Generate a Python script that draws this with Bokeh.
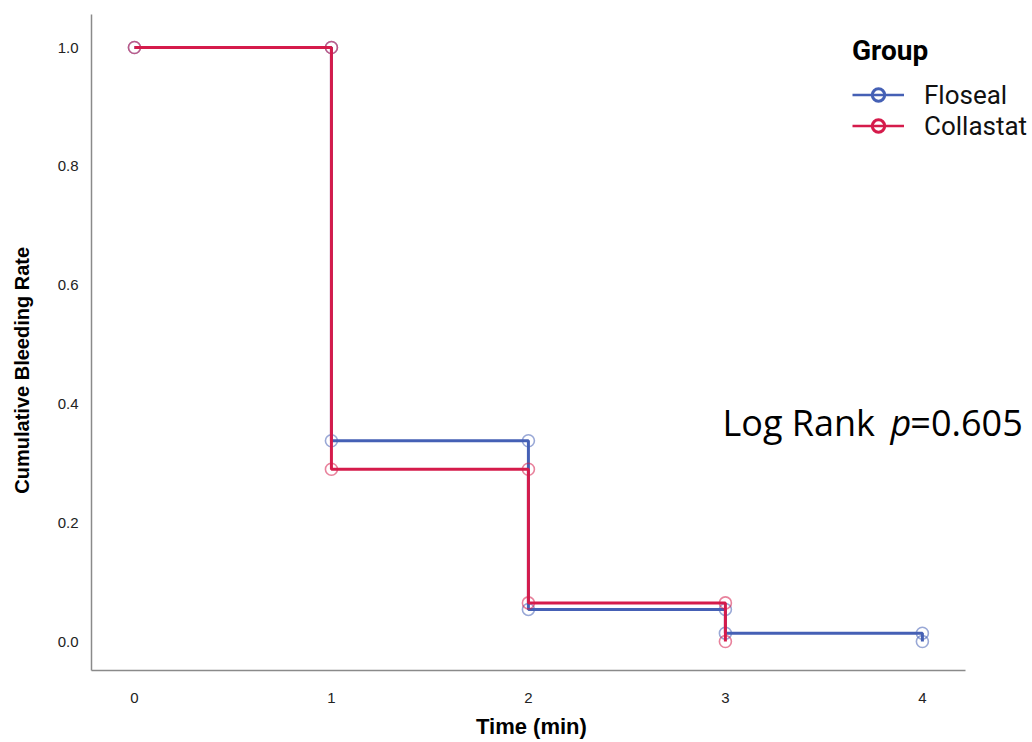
from bokeh.plotting import figure
from bokeh.models import Range1d, Legend, LegendItem, Label, FixedTicker
from bokeh.embed import file_html
from bokeh.resources import INLINE

# ---- data ----
groups = ["Floseal", "Collastat"]
colors = ["#4560b5", "#d51b4b"]
times_floseal = [0, 1, 2, 3, 4]
rate_floseal = [1.0, 0.338, 0.054, 0.014, 0.0]
times_collastat = [0, 1, 2, 3]
rate_collastat = [1.0, 0.290, 0.065, 0.0]
x_ticks = [0, 1, 2, 3, 4]
y_ticks = [0.0, 0.2, 0.4, 0.6, 0.8, 1.0]
p_value = "0.605"

p = figure(width=1032, height=742, output_backend="svg", toolbar_location=None,
           x_range=Range1d(-0.218, 4.559), y_range=Range1d(-0.0488, 1.0556),
           min_border_left=91, min_border_right=0, min_border_top=14, min_border_bottom=72,
           background_fill_color="white", border_fill_color="white")
p.outline_line_color = None
p.xgrid.visible = False
p.ygrid.visible = False

series = [(times_floseal, rate_floseal), (times_collastat, rate_collastat)]
legend_items = []
nan = float("nan")
for name, color, (t, r) in zip(groups, colors, series):
    p.step(t, r, mode="after", line_color=color, line_width=3)
    cx, cy = [t[0]], [r[0]]
    for i in range(1, len(t)):
        cx += [t[i], t[i]]
        cy += [r[i - 1], r[i]]
    p.scatter(cx, cy, marker="circle", size=12, fill_color=None,
              line_color=color, line_alpha=0.55, line_width=1.6)
    # legend-only swatches (nothing drawn in the plot)
    lg_line = p.line([nan], [nan], line_color=color, line_width=2.5)
    lg_circ = p.scatter([nan], [nan], marker="circle", fill_color=None,
                        line_color=color, line_width=3)
    legend_items.append(LegendItem(label=name, renderers=[lg_line, lg_circ]))

legend = Legend(items=legend_items, title="Group", location=(761, 529),
                title_text_font="Roboto", title_text_font_style="bold",
                title_text_font_size="28px", title_text_color="black",
                label_text_font="Roboto", label_text_font_size="26px",
                label_text_color="#111111",
                glyph_width=52, glyph_height=31, spacing=0, padding=4,
                label_standoff=20, title_standoff=12,
                border_line_color=None, background_fill_alpha=0)
p.add_layout(legend)

for ax in (p.xaxis, p.yaxis):
    ax.axis_line_color = "#8a8a8a"
    ax.axis_line_width = 1.5
    ax.major_tick_line_color = None
    ax.minor_tick_line_color = None
    ax.major_label_text_font = "Liberation Sans"
    ax.major_label_text_font_size = "15px"
    ax.major_label_text_color = "#222222"
    ax.axis_label_text_font = "Liberation Sans"
    ax.axis_label_text_font_style = "bold"
    ax.axis_label_text_color = "black"

p.xaxis.axis_label_text_font_size = "22px"
p.yaxis.axis_label_text_font_size = "20px"
p.xaxis.bounds = (-0.218, 4.218)
p.xaxis.ticker = FixedTicker(ticks=x_ticks)
p.yaxis.ticker = FixedTicker(ticks=y_ticks)
p.yaxis.major_label_overrides = {v: f"{v:.1f}" for v in y_ticks}
pad = "\u00a0" * 10  # shifts the centred titles as in the reference
p.xaxis.axis_label = "Time (min)" + pad
p.yaxis.axis_label = "Cumulative Bleeding Rate" + pad
p.xaxis.major_label_standoff = 16
p.xaxis.axis_label_standoff = 8
p.yaxis.major_label_standoff = 7
p.yaxis.axis_label_standoff = 22

common = dict(text_font="Open Sans", text_font_size="36px", text_color="black",
              text_baseline="alphabetic")
p.add_layout(Label(x=2.985, y=0.369, text="Log Rank", **common))
p.add_layout(Label(x=3.838, y=0.369, text="p", text_font_style="italic", **common))
p.add_layout(Label(x=3.939, y=0.369, text="=" + p_value, **common))

open("out.html", "w").write(file_html(p, INLINE))
